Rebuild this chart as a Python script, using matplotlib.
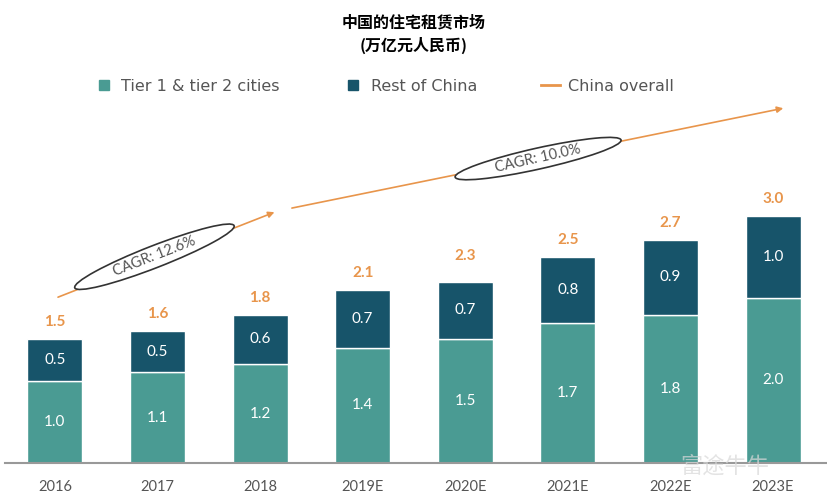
import matplotlib.pyplot as plt
from matplotlib.patches import Ellipse
from matplotlib.lines import Line2D

plt.rcParams['font.family'] = ['Lato', 'Noto Sans CJK SC', 'DejaVu Sans']

# 数据 (万亿元人民币)
years = ['2016', '2017', '2018', '2019E', '2020E', '2021E', '2022E', '2023E']
tier12 = [1.0, 1.1, 1.2, 1.4, 1.5, 1.7, 1.8, 2.0]
rest = [0.5, 0.5, 0.6, 0.7, 0.7, 0.8, 0.9, 1.0]
total = [1.5, 1.6, 1.8, 2.1, 2.3, 2.5, 2.7, 3.0]
cagr_labels = ['CAGR: 12.6%', 'CAGR: 10.0%']

teal = '#4a9b93'
dark = '#17546a'
orange = '#e8954b'
grey = '#555555'

fig = plt.figure(figsize=(8.28, 5.04), dpi=100)
ax = fig.add_axes([0.006, 41 / 504, 0.994, 363 / 504])

x = list(range(len(years)))
w = 0.536
ax.bar(x, tier12, width=w, color=teal, edgecolor='white', linewidth=1)
ax.bar(x, rest, width=w, bottom=tier12, color=dark, edgecolor='white', linewidth=1)

for i in x:
    ax.text(i, tier12[i] / 2, f'{tier12[i]:.1f}', ha='center', va='center',
            color='white', fontsize=11)
    ax.text(i, tier12[i] + rest[i] / 2, f'{rest[i]:.1f}', ha='center', va='center',
            color='white', fontsize=11)
    ax.text(i, total[i] + 0.12, f'{total[i]:.1f}', ha='center', va='bottom',
            color=orange, fontsize=11, fontweight='bold')

ax.set_xlim(-0.487, 7.536)
ax.set_ylim(0, 4.4)
ax.set_xticks(x)
ax.set_xticklabels(years, fontsize=10.5, color=grey)
ax.tick_params(axis='x', length=0, pad=12)
ax.set_yticks([])
for s in ['top', 'left', 'right']:
    ax.spines[s].set_visible(False)
ax.spines['bottom'].set_color('#999999')
ax.spines['bottom'].set_linewidth(1.5)

# CAGR arrows
arrows = [((0.03, 2.01), (2.14, 3.04)), ((2.31, 3.09), (7.10, 4.30))]
for (x0, y0), (x1, y1) in arrows:
    ax.annotate('', xy=(x1, y1), xytext=(x0, y0),
                arrowprops=dict(arrowstyle='-|>', color=orange, lw=1.2,
                                mutation_scale=9, shrinkA=0, shrinkB=0))

# ellipses (centre in data coords, size in pixels)
ell = [((0.97, 2.50), 171, 22, 21.3), ((4.71, 3.69), 170, 21, 12.6)]
to_in = fig.dpi_scale_trans.inverted()
fig.canvas.draw()
for k, ((cx, cy), ew, eh, ang) in enumerate(ell):
    px, py = ax.transData.transform((cx, cy))
    ix, iy = to_in.transform((px, py))
    e = Ellipse((ix, iy), ew / 100, eh / 100, angle=ang, transform=fig.dpi_scale_trans,
                facecolor='white', edgecolor='#333333', linewidth=1.2, zorder=5)
    fig.add_artist(e)
    fig.text(ix / 8.28, iy / 5.04, cagr_labels[k], ha='center', va='center',
             rotation=ang, fontsize=10.5, color=grey, zorder=6)

# title
fig.text(0.5, 1 - 22 / 504, '中国的住宅租赁市场', ha='center', va='center',
         fontsize=11.5, fontweight='bold', family=['Noto Sans CJK SC'])
fig.text(0.5, 1 - 45 / 504, '(万亿元人民币)', ha='center', va='center',
         fontsize=11.5, fontweight='bold', family=['Noto Sans CJK SC'])

handles = [Line2D([], [], marker='s', linestyle='none', color=teal, markersize=7),
           Line2D([], [], marker='s', linestyle='none', color=dark, markersize=7),
           Line2D([], [], color=orange, lw=2)]
fig.legend(handles, ['Tier 1 & tier 2 cities', 'Rest of China', 'China overall'],
           loc='center', bbox_to_anchor=(384 / 828, 1 - 86 / 504), ncol=3, frameon=False,
           prop={'family': 'DejaVu Sans', 'size': 11.5}, labelcolor=grey,
           handlelength=1.2, handletextpad=0.5, columnspacing=4.0)

# watermark
fig.text(0.875, 1 - 466 / 504, '富途牛牛', fontsize=16, color='#d8d8d8', alpha=0.7,
         ha='center', va='center', family=['Noto Sans CJK SC'], zorder=0)

fig.savefig('out.png', dpi=100)
